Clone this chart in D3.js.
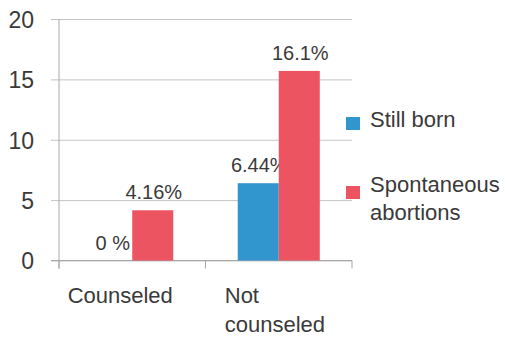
<!DOCTYPE html>
<html><head><meta charset="utf-8">
<script src="https://cdn.jsdelivr.net/npm/d3@7"></script>
<style>
html,body{margin:0;padding:0;background:#fff;}
text{font-family:"Liberation Sans",Arial,sans-serif;fill:#3a3a3a;}
</style></head>
<body><svg id="c" width="505" height="338"></svg>
<script>
const categories = ["Counseled", "Not counseled"];
const seriesNames = ["Still born", "Spontaneous abortions"];
const stillBorn = [0, 6.4];
const spontaneous = [4.16, 15.7];
const stillBornLabels = ["0 %", "6.44%"];
const spontaneousLabels = ["4.16%", "16.1%"];
const yTicks = [0, 5, 10, 15, 20];
const colors = ["#3196cd", "#eb5460"];

(function () {
const svg = d3.select("#c");
const pLeft = 59, pRight = 352, pTop = 19, pBottom = 260.5;

const y = d3.scaleLinear().domain([0, 20]).range([pBottom, pTop]);
const x0 = d3.scaleBand().domain(categories).range([pLeft, pRight]).paddingInner(0.44).paddingOuter(0.22);
const x1 = d3.scaleBand().domain(seriesNames).range([0, x0.bandwidth()]);

// y grid + labels
const gy = svg.append("g").attr("transform", `translate(${pLeft - 8},0)`)
  .call(d3.axisLeft(y).tickValues(yTicks).tickSize(-(pRight - pLeft + 8)).tickPadding(17).tickFormat(d3.format("d")));
gy.select(".domain").remove();
gy.selectAll(".tick line").attr("stroke", "#c4c4c4").attr("stroke-width", 1);
gy.selectAll(".tick text").style("font-size", "23px").attr("fill", "#3a3a3a").attr("dy", "0.36em");

// vertical axis line
svg.append("line").attr("x1", pLeft).attr("x2", pLeft).attr("y1", pTop).attr("y2", pBottom + 8)
  .attr("stroke", "#a8a8a8");
// x axis line
svg.append("line").attr("x1", pLeft - 8).attr("x2", pRight).attr("y1", pBottom).attr("y2", pBottom)
  .attr("stroke", "#a8a8a8");
// category boundary ticks
const bounds = [pLeft].concat(categories.map((c, i) => pLeft + x0.step() * (i + 1)));
svg.selectAll("line.bt").data(bounds).enter().append("line").attr("class", "bt")
  .attr("x1", d => d).attr("x2", d => d).attr("y1", pBottom).attr("y2", pBottom + 8)
  .attr("stroke", "#a8a8a8");

// bars
const series = [stillBorn, spontaneous];
const labels = [stillBornLabels, spontaneousLabels];
series.forEach((vals, si) => {
  const g = svg.append("g");
  g.selectAll("rect").data(vals).enter().append("rect")
    .attr("x", (d, i) => x0(categories[i]) + x1(seriesNames[si]))
    .attr("width", x1.bandwidth())
    .attr("y", d => y(d))
    .attr("height", d => y(0) - y(d))
    .attr("fill", colors[si]);
  g.selectAll("text").data(vals).enter().append("text")
    .attr("x", (d, i) => x0(categories[i]) + x1(seriesNames[si]) + x1.bandwidth() / 2 + 1)
    .attr("y", d => y(d) - 11)
    .attr("text-anchor", "middle")
    .style("font-size", "20px")
    .text((d, i) => labels[si][i]);
});

// category labels
const c0 = x0(categories[0]) + x0.bandwidth() / 2;
svg.append("text").attr("x", c0 - 12).attr("y", 303).attr("text-anchor", "middle")
  .style("font-size", "22px").text(categories[0]);
const nx = x0(categories[1]) + x0.bandwidth() / 2 - 54;
const nl = svg.append("text").attr("x", nx).attr("y", 303).style("font-size", "22px");
categories[1].split(" ").forEach((w, i) => {
  nl.append("tspan").attr("x", nx).attr("dy", i ? 29 : 0).text(w);
});

// legend
const leg = [
  {lines: ["Still born"], sq: 117, ty: 127},
  {lines: ["Spontaneous", "abortions"], sq: 186, ty: 192}
];
leg.forEach((l, i) => {
  svg.append("rect").attr("x", 346).attr("y", l.sq).attr("width", 14).attr("height", 13).attr("fill", colors[i]);
  const t = svg.append("text").attr("x", 370).attr("y", l.ty).style("font-size", "22px");
  l.lines.forEach((w, j) => t.append("tspan").attr("x", 370).attr("dy", j ? 28 : 0).text(w));
});
})();
</script></body></html>
